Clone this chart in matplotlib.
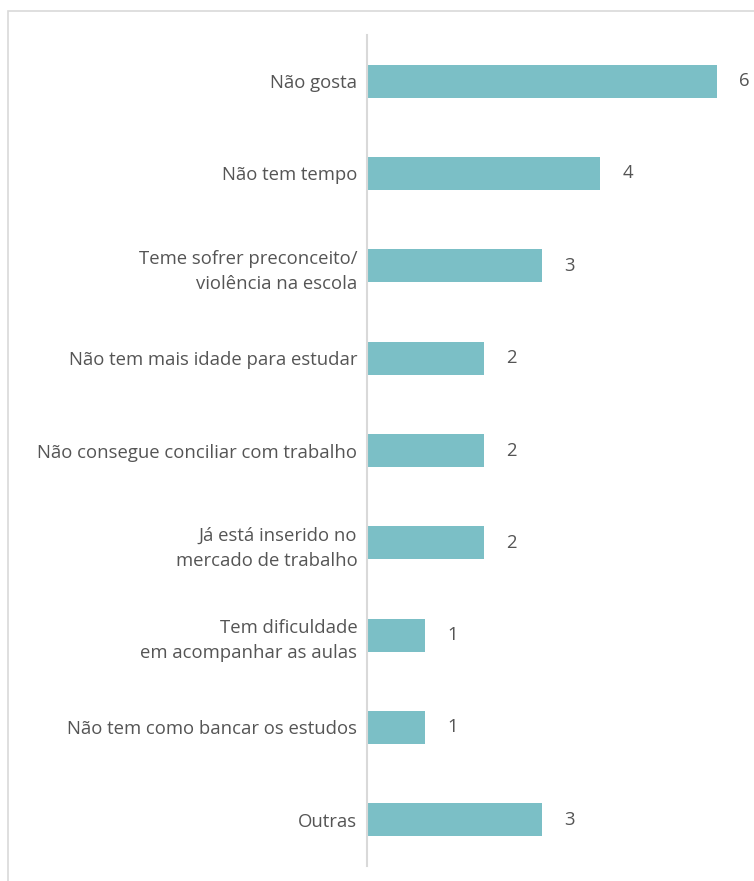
import matplotlib
matplotlib.use("Agg")
import matplotlib.pyplot as plt
from matplotlib.patches import Rectangle

categories = [
    "Não gosta",
    "Não tem tempo",
    "Teme sofrer preconceito/\nviolência na escola",
    "Não tem mais idade para estudar",
    "Não consegue conciliar com trabalho",
    "Já está inserido no\nmercado de trabalho",
    "Tem dificuldade\nem acompanhar as aulas",
    "Não tem como bancar os estudos",
    "Outras",
]
values = [6, 4, 3, 2, 2, 2, 1, 1, 3]

BAR = "#7BBFC6"
TXT = "#555555"
GRID = "#D9D9D9"

plt.rcParams['font.family'] = ['Open Sans', 'DejaVu Sans']

W, H = 754, 881
fig = plt.figure(figsize=(W / 100, H / 100), dpi=100)
ax = fig.add_axes([367 / W, (H - 866) / H, (W - 367) / W, (866 - 35) / H])

n = len(categories)
ypos = list(range(n))
ax.barh(ypos, values, height=0.36, color=BAR, zorder=2)
ax.set_ylim(n - 0.5, -0.5)
ax.set_xlim(0, (W - 367) / 58.33)

ax.set_yticks(ypos)
ax.set_yticklabels(categories, fontsize=13.3, color=TXT, linespacing=1.52)
for lab in ax.get_yticklabels():
    lab.set_multialignment('right')
ax.tick_params(axis='y', length=0, pad=7)
ax.set_xticks([])

for s in ['top', 'right', 'bottom']:
    ax.spines[s].set_visible(False)
ax.spines['left'].set_color(GRID)
ax.spines['left'].set_linewidth(1.5)

for y, v in zip(ypos, values):
    ax.annotate(str(v), xy=(v, y), xytext=(22, 0), textcoords='offset pixels',
                ha='left', va='center', fontsize=13.3, color=TXT)

fig.patches.append(Rectangle((8 / W, -0.05), 1.1, 1 - 11 / H + 0.05,
                             transform=fig.transFigure, fill=False,
                             edgecolor=GRID, linewidth=1.2, zorder=0))

fig.savefig("out.png", dpi=100)
